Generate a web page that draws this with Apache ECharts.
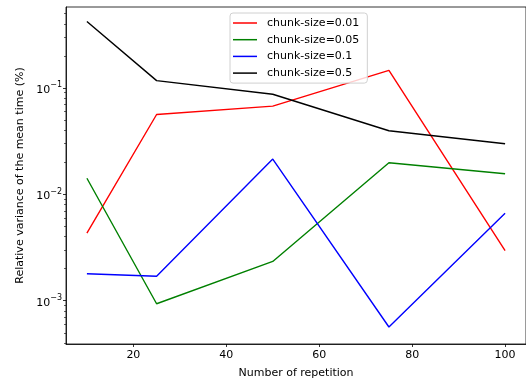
<!DOCTYPE html>
<html>
<head>
  <meta charset="utf-8">
  <script src="https://cdn.jsdelivr.net/npm/echarts@6/dist/echarts.min.js"></script>
</head>
<body style="margin:0;background:#fff">
  <div id="container" style="width:526px;height:387px"></div>
  <script>
    // repetitions on the x axis
    var repetitions = [10, 25, 50, 75, 100];
    var names = ['chunk-size=0.01', 'chunk-size=0.05', 'chunk-size=0.1', 'chunk-size=0.5'];
    var colors = ['#ff0000', '#008000', '#0000ff', '#000000'];

    // relative variance values
    var cs001 = [0.00432, 0.0562, 0.0673, 0.146, 0.00295];
    var cs005 = [0.01415, 0.000937, 0.00234, 0.0198, 0.0156];
    var cs01 = [0.00179, 0.0017, 0.0214, 0.000566, 0.00665];
    var cs05 = [0.42, 0.117, 0.087, 0.0395, 0.0298];

    var xTicks = [20, 40, 60, 80, 100];
    var yMajor = [0.001, 0.01, 0.1];
    var yMinor = [0.0004, 0.0005, 0.0006, 0.0007, 0.0008, 0.0009,
                  0.002, 0.003, 0.004, 0.005, 0.006, 0.007, 0.008, 0.009,
                  0.02, 0.03, 0.04, 0.05, 0.06, 0.07, 0.08, 0.09,
                  0.2, 0.3, 0.4, 0.5];

    var allSeries = [cs001, cs005, cs01, cs05];
    var font = 'DejaVu Sans';

    var chart = echarts.init(document.getElementById('container'), null, { renderer: 'canvas' });

    var series = allSeries.map(function (vals, i) {
      return {
        name: names[i],
        type: 'line',
        data: repetitions.map(function (x, j) { return [x, vals[j]]; }),
        showSymbol: false,
        symbol: 'none',
        lineStyle: { color: colors[i], width: 1.4 },
        itemStyle: { color: colors[i] },
        animation: false
      };
    });

    var option = {
      animation: false,
      grid: {
        left: 66, top: 7, width: 464, height: 337,
        show: true, borderColor: '#000', borderWidth: 0.8,
        backgroundColor: 'transparent'
      },
      legend: {
        orient: 'vertical',
        left: 230, top: 13,
        padding: [4, 8, 4, 3],
        itemGap: 4.7,
        itemWidth: 24, itemHeight: 1.5,
        icon: 'rect',
        borderColor: '#d0d0d0', borderWidth: 1, borderRadius: 3,
        backgroundColor: 'rgba(255,255,255,0.8)',
        textStyle: { fontFamily: font, fontSize: 11, color: '#000', lineHeight: 12, padding: [0, 0, 0, 5] },
        data: names
      },
      xAxis: {
        type: 'value',
        min: 5.5, max: 104.5,
        name: 'Number of repetition',
        nameLocation: 'middle', nameGap: 24,
        nameTextStyle: { fontFamily: font, fontSize: 11, color: '#000' },
        axisLine: { show: true, onZero: false, lineStyle: { color: '#000', width: 0.8 } },
        axisTick: { show: true, length: 3, customValues: xTicks, lineStyle: { color: '#000', width: 0.8 } },
        axisLabel: { customValues: xTicks, fontFamily: font, fontSize: 11, color: '#000', margin: 6 },
        splitLine: { show: false }
      },
      yAxis: [
        {
          type: 'log',
          min: 0.000392, max: 0.575,
          name: 'Relative variance of the mean time (%)',
          nameLocation: 'middle', nameGap: 40,
          nameTextStyle: { fontFamily: font, fontSize: 11, color: '#000' },
          axisLine: { show: true, lineStyle: { color: '#000', width: 0.8 } },
          axisTick: { show: true, length: 3, customValues: yMajor, lineStyle: { color: '#000', width: 0.8 } },
          axisLabel: {
            customValues: yMajor,
            margin: 4,
            formatter: function (v) {
              return '{b|10}{s|\u2212' + Math.round(-Math.log10(v)) + '}';
            },
            rich: {
              b: { fontFamily: font, fontSize: 11, color: '#000', padding: [4, 0, 0, 0] },
              s: { fontFamily: font, fontSize: 8, color: '#000', padding: [0, 0, 5, 0] }
            }
          },
          splitLine: { show: false }
        },
        {
          type: 'log',
          min: 0.000392, max: 0.575,
          position: 'left',
          axisLine: { show: false },
          axisTick: { show: true, length: 2, customValues: yMinor, lineStyle: { color: '#000', width: 0.6 } },
          axisLabel: { show: false },
          splitLine: { show: false }
        }
      ],
      series: series
    };

    chart.setOption(option);
  </script>
</body>
</html>
